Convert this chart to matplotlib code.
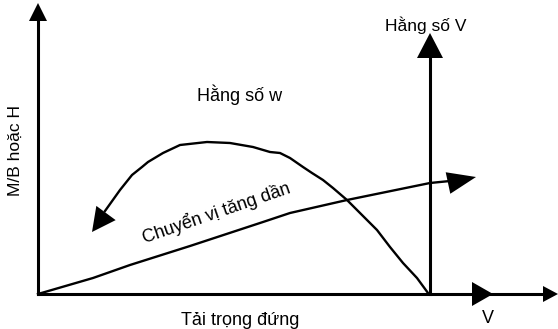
import numpy as np
import matplotlib
matplotlib.use("Agg")
import matplotlib.pyplot as plt

plt.rcParams['font.family'] = ['Liberation Sans', 'DejaVu Sans']

# canvas in pixel units (x right, y down)
W, H = 558, 329

# axes frame
origin = (38, 294)
y_axis_top = 3
x_axis_end = 558
const_v_x = 430
const_v_top = 33

# load-displacement line (Chuyen vi tang dan)
disp_x = [38, 93, 130, 190, 263, 290, 347, 430, 460]
disp_y = [294, 278, 265, 246, 222, 213, 200, 183, 180]
disp_tip = (476, 177)

# constant-w curve (drawn from V axis back toward arrow tip)
arc_x = [428, 417, 403, 390, 377, 360, 347, 333, 323, 312, 303, 290, 280, 270,
         253, 230, 207, 180, 163, 148, 142, 132, 120, 105]
arc_y = [293, 278, 263, 247, 230, 213, 200, 188, 180, 173, 167, 158, 153, 152,
         147, 143, 142, 145, 153, 162, 167, 175, 190, 211]
arc_tip = (92, 232)

labels = {
    "ylabel": "M/B hoặc H",
    "xlabel": "Tải trọng đứng",
    "const_w": "Hằng số w",
    "const_v": "Hằng số V",
    "disp": "Chuyển vị tăng dần",
    "v": "V",
}


def arrowhead(ax, tip, base, half_w):
    tip = np.array(tip, float)
    base = np.array(base, float)
    d = tip - base
    n = np.array([-d[1], d[0]]) / np.hypot(*d)
    pts = np.array([tip, base + n * half_w, base - n * half_w])
    ax.fill(pts[:, 0], pts[:, 1], color="black", lw=0, zorder=5)


fig = plt.figure(figsize=(W / 100, H / 100), dpi=100)
ax = fig.add_axes([0, 0, 1, 1])
ax.set_xlim(0, W)
ax.set_ylim(H, 0)
ax.axis("off")

# axes
ax.plot([origin[0], origin[0]], [origin[1], y_axis_top + 12], color="black", lw=2.2)
arrowhead(ax, (origin[0], y_axis_top), (origin[0], y_axis_top + 18), 9)
ax.plot([origin[0], x_axis_end - 10], [origin[1], origin[1]], color="black", lw=2.2)
arrowhead(ax, (x_axis_end, origin[1]), (x_axis_end - 15, origin[1]), 8)
arrowhead(ax, (493, origin[1]), (472, origin[1]), 12)

# constant V line
ax.plot([const_v_x, const_v_x], [origin[1], const_v_top + 20], color="black", lw=2.2)
arrowhead(ax, (const_v_x, const_v_top), (const_v_x, const_v_top + 25), 13)

# displacement line
ax.plot(disp_x, disp_y, color="black", lw=1.7, solid_joinstyle="round")
arrowhead(ax, disp_tip, (disp_x[-1] - 12, disp_y[-1] + 3), 11)

# constant w curve
ax.plot(arc_x, arc_y, color="black", lw=1.7, solid_joinstyle="round")
arrowhead(ax, arc_tip, (arc_x[-1] + 1, arc_y[-1] + 2), 12)

# text
ax.text(15, 150, labels["ylabel"], rotation=90, ha="center", va="center", fontsize=12.5)
ax.text(240, 325, labels["xlabel"], ha="center", va="baseline", fontsize=13)
ax.text(197, 101, labels["const_w"], ha="left", va="baseline", fontsize=13)
ax.text(426, 31, labels["const_v"], ha="center", va="baseline", fontsize=12.5)
ax.text(488, 323, labels["v"], ha="center", va="baseline", fontsize=13)
ax.text(216, 213, labels["disp"], rotation=19, rotation_mode="anchor",
        ha="center", va="center", fontsize=13)

fig.savefig("out.png", dpi=100)
